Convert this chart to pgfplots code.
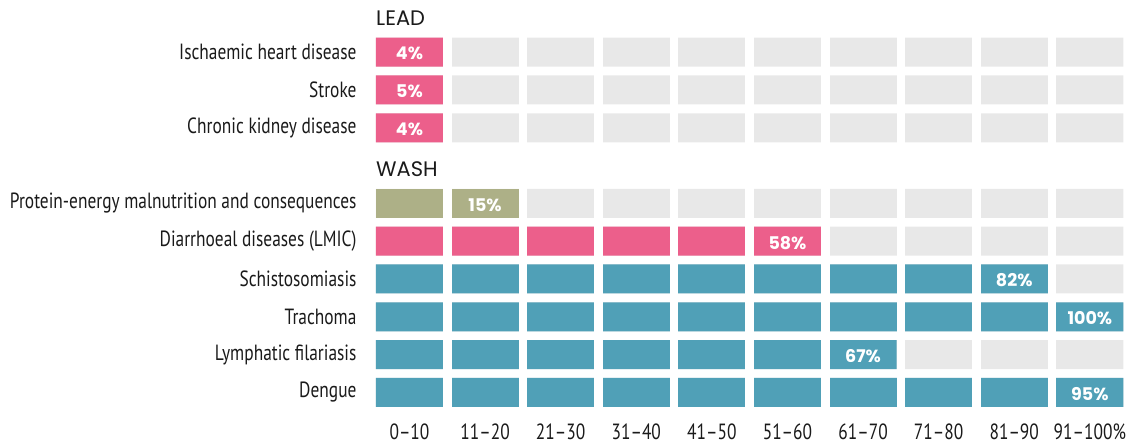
\documentclass[border=0pt]{standalone}
\usepackage{fontspec}
\usepackage{pgfplots}
\pgfplotsset{compat=1.18}
\usepackage{pgfplotstable}
\setmainfont{PT Sans}
\newfontfamily\condfont[FakeStretch=0.79]{PT Sans}
\newfontfamily\geofont{Poppins}
\definecolor{cpink}{HTML}{EC5F8B}
\definecolor{colive}{HTML}{ADB087}
\definecolor{cteal}{HTML}{50A0B7}
\definecolor{cgray}{HTML}{E8E8E8}
\definecolor{ctext}{HTML}{1A1A1A}

% slot = row position (0 = LEAD header, 4 = WASH header)
\pgfplotstableread{
slot cells pct
1 1 4
2 1 5
3 1 4
6 6 58
}\pinkdata
\pgfplotstableread{
slot cells pct
5 2 15
}\olivedata
\pgfplotstableread{
slot cells pct
7 9 82
8 10 100
9 7 67
10 10 95
}\tealdata
\pgfplotstableread{
slot cells pct
1 1 4
2 1 5
3 1 4
5 2 15
6 6 58
7 9 82
8 10 100
9 7 67
10 10 95
}\alldata

\begin{document}
\begin{tikzpicture}
\begin{axis}[
  name=ax,
  scale only axis,
  width=754pt, height=411.3pt,
  xmin=0, xmax=9.974,
  ymin=-0.38, ymax=10.5,
  y dir=reverse,
  axis line style={draw=none},
  major tick length=0pt,
  xbar, bar width=29pt, bar shift=0pt,
  xtick={0.443,1.443,2.443,3.443,4.443,5.443,6.443,7.443,8.443,9.443},
  xticklabels={0–10,11–20,21–30,31–40,41–50,51–60,61–70,71–80,81–90,91–100\%},
  xticklabel style={font=\condfont\fontsize{22}{25}\selectfont, text=ctext, anchor=north, yshift=-9pt},
  ytick={1,2,3,5,6,7,8,9,10},
  yticklabels={Ischaemic heart disease,Stroke,Chronic kidney disease,Protein-energy malnutrition and consequences,Diarrhoeal diseases (LMIC),Schistosomiasis,Trachoma,Lymphatic filariasis,Dengue},
  yticklabel style={font=\condfont\fontsize{22}{25}\selectfont, text=ctext, anchor=east, xshift=-16pt},
  extra x ticks={0.943,1.943,2.943,3.943,4.943,5.943,6.943,7.943,8.943},
  extra x tick labels={},
  extra x tick style={grid=major, major grid style={draw=white, line width=8.6pt}},
  axis on top,
  clip=false,
]
\addplot[draw=none, fill=cgray] table[x expr=10-0.114, y=slot] {\alldata};
\addplot[draw=none, fill=cpink] table[x expr=\thisrow{cells}-0.114, y=slot] {\pinkdata};
\addplot[draw=none, fill=colive] table[x expr=\thisrow{cells}-0.114, y=slot] {\olivedata};
\addplot[draw=none, fill=cteal] table[x expr=\thisrow{cells}-0.114, y=slot] {\tealdata};
\addplot[draw=none, fill=none, bar width=0pt,
  nodes near coords={\pgfplotspointmeta\%},
  point meta=explicit symbolic,
  every node near coord/.style={anchor=center, font=\geofont\bfseries\fontsize{17.5}{20}\selectfont, text=white, yshift=-1.5pt}
] table[x expr=\thisrow{cells}-0.557, y=slot, meta=pct] {\alldata};
\node[anchor=base west, inner sep=0pt, font=\geofont\fontsize{21}{24}\selectfont, text=ctext] at (axis cs:0,0.3) {LEAD};
\node[anchor=base west, inner sep=0pt, font=\geofont\fontsize{21}{24}\selectfont, text=ctext] at (axis cs:0,4.3) {WASH};
\end{axis}
\pgfresetboundingbox
\path ([xshift=-376pt,yshift=-34.7pt]ax.south west) rectangle (ax.north east);
\end{tikzpicture}
\end{document}
